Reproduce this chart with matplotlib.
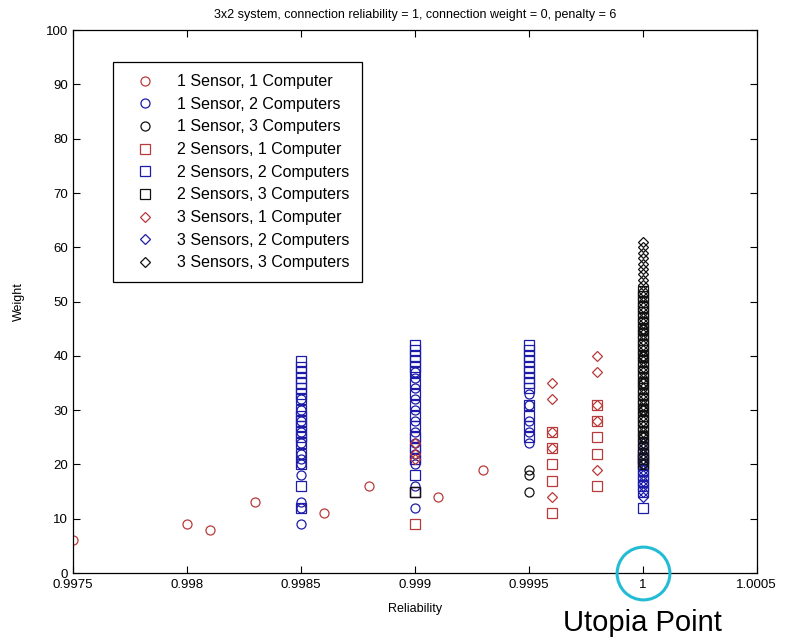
import matplotlib
matplotlib.use("Agg")
import matplotlib.pyplot as plt

plt.rcParams['font.family'] = ['Liberation Sans', 'DejaVu Sans']

RED = '#b83a3a'
BLUE = '#1c1ca8'
BLACK = '#111111'

# 1 Sensor, 1 Computer
s1c1_x = [0.99750, 0.99800, 0.99810, 0.99830, 0.99860, 0.99880, 0.99910, 0.99930]
s1c1_y = [6, 9, 8, 13, 11, 16, 14, 19]

# 1 Sensor, 2 Computers
s1c2_x = [0.9985] * 12 + [0.999] * 12 + [0.9995] * 5
s1c2_y = [9, 12, 13, 18, 20, 21, 22, 24, 26, 28, 30, 32,
          12, 16, 20, 22, 24, 26, 28, 30, 32, 34, 36, 37,
          24, 26, 28, 31, 33]

# 1 Sensor, 3 Computers
s1c3_x = [0.9995] * 3 + [1.0] * 6
s1c3_y = [15, 18, 19, 20, 25, 30, 35, 40, 45]

# 2 Sensors, 1 Computer
s2c1_x = [0.999] * 5 + [0.9996] * 5 + [0.9998] * 5
s2c1_y = [9, 15, 21, 23, 25,
          11, 17, 20, 23, 26,
          16, 22, 25, 28, 31]

# 2 Sensors, 2 Computers
s2c2_x = [0.9985] * 19 + [0.999] * 16 + [0.9995] * 13 + [1.0] * 9
s2c2_y = [12, 16, 20, 22, 24, 25, 26, 27, 28, 29, 30, 32, 33, 34, 35, 36, 37, 38, 39,
          15, 18, 21, 23, 25, 27, 29, 31, 33, 35, 37, 38, 39, 40, 41, 42,
          25, 27, 29, 31, 34, 35, 36, 37, 38, 39, 40, 41, 42,
          12, 15, 16, 17, 18, 19, 20, 21, 22]

# 2 Sensors, 3 Computers
s2c3_x = [0.999] + [1.0] * 33
s2c3_y = [15,
          20, 21, 22, 23, 24, 25, 26, 27, 28, 29, 30, 31, 32, 33, 34, 35, 36,
          37, 38, 39, 40, 41, 42, 43, 44, 45, 46, 47, 48, 49, 50, 51, 52]

# 3 Sensors, 1 Computer
s3c1_x = [0.999] * 3 + [0.9996] * 5 + [0.9998] * 5
s3c1_y = [21, 22, 24,
          14, 23, 26, 32, 35,
          19, 28, 31, 37, 40]

# 3 Sensors, 2 Computers
s3c2_x = [1.0] * 11
s3c2_y = [14, 15, 16, 17, 18, 19, 20, 21, 22, 23, 24]

# 3 Sensors, 3 Computers
s3c3_x = [1.0] * 42
s3c3_y = [20, 21, 22, 23, 24, 25, 26, 27, 28, 29, 30, 31, 32, 33, 34, 35,
          36, 37, 38, 39, 40, 41, 42, 43, 44, 45, 46, 47, 48, 49, 50, 51,
          52, 53, 54, 55, 56, 57, 58, 59, 60, 61]

series = [
    (s1c1_x, s1c1_y, 'o', RED, '1 Sensor, 1 Computer'),
    (s1c2_x, s1c2_y, 'o', BLUE, '1 Sensor, 2 Computers'),
    (s1c3_x, s1c3_y, 'o', BLACK, '1 Sensor, 3 Computers'),
    (s2c1_x, s2c1_y, 's', RED, '2 Sensors, 1 Computer'),
    (s2c2_x, s2c2_y, 's', BLUE, '2 Sensors, 2 Computers'),
    (s2c3_x, s2c3_y, 's', BLACK, '2 Sensors, 3 Computers'),
    (s3c1_x, s3c1_y, 'D', RED, '3 Sensors, 1 Computer'),
    (s3c2_x, s3c2_y, 'D', BLUE, '3 Sensors, 2 Computers'),
    (s3c3_x, s3c3_y, 'D', BLACK, '3 Sensors, 3 Computers'),
]

x_ticks = [0.9975, 0.998, 0.9985, 0.999, 0.9995, 1.0, 1.0005]
x_tick_labels = ['0.9975', '0.998', '0.9985', '0.999', '0.9995', '1', '1.0005']
y_ticks = [0, 10, 20, 30, 40, 50, 60, 70, 80, 90, 100]

fig = plt.figure(figsize=(7.85, 6.41), dpi=100)
ax = fig.add_axes([0.093, 0.106, 0.871, 0.847])

for xs, ys, mk, col, lab in series:
    ms = 6.5 if mk != 'D' else 4.6
    ax.plot(xs, ys, linestyle='none', marker=mk, ms=ms, mfc='none',
            mec=col, mew=0.9, label=lab)

ax.set_xlim(0.9975, 1.0005)
ax.set_ylim(0, 100)
ax.set_xticks(x_ticks)
ax.set_xticklabels(x_tick_labels)
ax.set_yticks(y_ticks)
ax.tick_params(direction='in', top=True, right=True, length=5, labelsize=9.5,
               width=0.8)
ax.tick_params(axis='x', pad=4)
for sp in ax.spines.values():
    sp.set_linewidth(0.9)

ax.set_title('3x2 system, connection reliability = 1, connection weight = 0, penalty = 6',
             fontsize=9, pad=9)
ax.set_xlabel('Reliability', fontsize=9, labelpad=9)
ax.set_ylabel('Weight', fontsize=9, labelpad=15)

leg = ax.legend(loc='upper left', bbox_to_anchor=(0.058, 0.941), borderaxespad=0,
                fontsize=11.5, labelspacing=0.48, handlelength=2.6, handletextpad=0.7,
                borderpad=0.75, fancybox=False, framealpha=1, edgecolor='black')
leg.get_frame().set_linewidth(0.9)

# Utopia point highlight
ax.plot([1.0], [0], marker='o', ms=38, mfc='none', mec='#22bcd4', mew=2.2,
        clip_on=False, zorder=5)
ax.annotate('Utopia Point', xy=(1.0, 0), xytext=(0, -36), textcoords='offset points',
            ha='center', va='center', fontsize=21, annotation_clip=False)

fig.savefig('out.png', dpi=100)
